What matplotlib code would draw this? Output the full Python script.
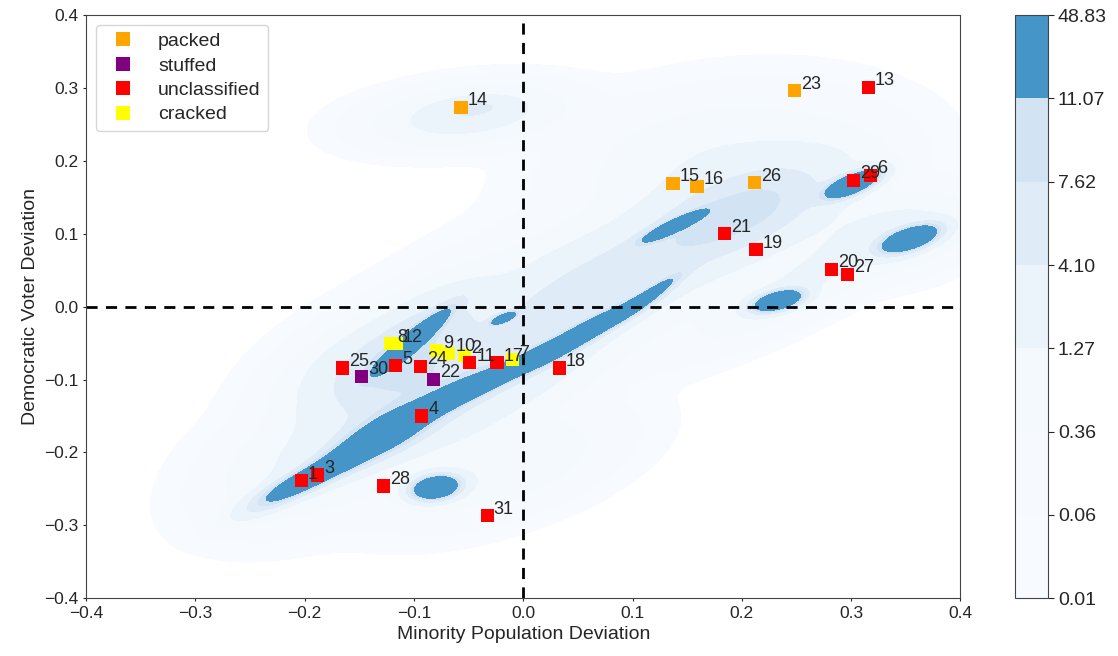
#Minority vs democratic voter deviation with ensemble density
import numpy as np
import matplotlib
matplotlib.use('Agg')
import matplotlib.pyplot as plt
from matplotlib.lines import Line2D

figName = 'out.png'

# district points (x: minority pop dev, y: dem voter dev)
district_ids = [1, 2, 3, 4, 5, 6, 7, 8, 9, 10, 11, 12, 13, 14, 15, 16,
                17, 18, 19, 20, 21, 22, 23, 24, 25, 26, 27, 28, 29, 30, 31]
minority_dev = [-0.203, -0.054, -0.188, -0.093, -0.117, 0.318, -0.010, -0.121, -0.079, -0.068,
                -0.049, -0.116, 0.316, -0.057, 0.137, 0.159, -0.024, 0.033, 0.213, 0.282,
                0.184, -0.082, 0.248, -0.094, -0.165, 0.212, 0.297, -0.128, 0.302, -0.148, -0.033]
dem_dev = [-0.239, -0.067, -0.231, -0.150, -0.081, 0.180, -0.073, -0.051, -0.060, -0.064,
           -0.077, -0.051, 0.301, 0.273, 0.169, 0.165, -0.077, -0.084, 0.078, 0.051,
           0.100, -0.100, 0.296, -0.082, -0.084, 0.170, 0.044, -0.246, 0.173, -0.096, -0.287]
district_class = ['unclassified', 'cracked', 'unclassified', 'unclassified', 'unclassified',
                  'unclassified', 'cracked', 'cracked', 'cracked', 'cracked', 'unclassified',
                  'cracked', 'unclassified', 'packed', 'packed', 'packed', 'unclassified',
                  'unclassified', 'unclassified', 'unclassified', 'unclassified', 'stuffed',
                  'packed', 'unclassified', 'unclassified', 'packed', 'unclassified',
                  'unclassified', 'unclassified', 'stuffed', 'unclassified']

class_names = ['packed', 'stuffed', 'unclassified', 'cracked']
class_colors = {'packed': 'orange', 'stuffed': 'purple', 'unclassified': 'red', 'cracked': 'yellow'}

# density levels shown on the colorbar
kde_levels = [0.01, 0.06, 0.36, 1.27, 4.10, 7.62, 11.07, 48.83]

# ensemble density, described as blobs: centre x, centre y, sigma major, sigma minor, angle (deg), peak
blob_cx = [0.04, -0.2, 0.18, -0.05, -0.045, 0.34, -0.02, 0.26,
           -0.06, -0.125, 0.20, 0.08, -0.09,
           -0.213, -0.183, -0.152, -0.122, -0.092, -0.060, -0.030, 0.0, 0.028, 0.059, 0.089, 0.116,
           -0.10, -0.018, -0.080, 0.301, 0.354, 0.137, 0.233]
blob_cy = [0.02, -0.22, 0.20, 0.262, 0.272, 0.10, -0.22, 0.04,
           -0.11, -0.085, 0.13, 0.04, -0.03,
           -0.248, -0.226, -0.198, -0.170, -0.144, -0.119, -0.101, -0.078, -0.062, -0.032, -0.010, 0.017,
           -0.045, -0.016, -0.248, 0.168, 0.093, 0.110, 0.008]
blob_sx = [0.11, 0.05, 0.07, 0.045, 0.02, 0.04, 0.06, 0.07,
           0.09, 0.05, 0.06, 0.08, 0.045,
           0.03, 0.03, 0.03, 0.03, 0.03, 0.03, 0.03, 0.03, 0.03, 0.03, 0.03, 0.025,
           0.03, 0.008, 0.013, 0.017, 0.017, 0.019, 0.014]
blob_sy = [0.045, 0.035, 0.045, 0.02, 0.008, 0.025, 0.03, 0.02,
           0.033, 0.03, 0.03, 0.03, 0.02,
           0.008, 0.008, 0.011, 0.014, 0.008, 0.008, 0.006, 0.006, 0.007, 0.007, 0.006, 0.004,
           0.005, 0.003, 0.009, 0.007, 0.008, 0.004, 0.007]
blob_ang = [35, 40, 15, 10, 10, 25, 30, 40,
            38, 40, 35, 35, 50,
            39, 39, 39, 39, 39, 39, 39, 39, 39, 39, 39, 45,
            52, 35, 20, 35, 30, 36, 25]
blob_peak = [1.2, 1.0, 1.2, 2.5, 3.0, 2.0, 1.0, 1.5,
             5.5, 6.5, 8.5, 4.5, 4.0,
             14, 14, 15, 15, 14, 14, 14, 14, 14, 14, 14, 14,
             30, 25, 35, 35, 35, 30, 35]

gx = np.linspace(-0.4, 0.4, 400)
gy = np.linspace(-0.4, 0.4, 400)
X, Y = np.meshgrid(gx, gy)
Z = np.zeros_like(X)
for cx, cy, sx, sy, ang, pk in zip(blob_cx, blob_cy, blob_sx, blob_sy, blob_ang, blob_peak):
    t = np.deg2rad(ang)
    u = (X - cx) * np.cos(t) + (Y - cy) * np.sin(t)
    v = -(X - cx) * np.sin(t) + (Y - cy) * np.cos(t)
    Z += pk * np.exp(-0.5 * (u**2 / sx**2 + v**2 / sy**2))
Z = np.clip(Z, 0, 48.8)

plt.rcParams['font.family'] = ['Liberation Sans', 'DejaVu Sans']
plt.rcParams['text.color'] = '#262626'
plt.rcParams['axes.labelcolor'] = '#262626'
plt.rcParams['xtick.color'] = '#262626'
plt.rcParams['ytick.color'] = '#262626'

fig = plt.figure(figsize=(11.18, 6.56), dpi=100)
ax = fig.add_axes([0.077, 0.088, 0.782, 0.889])
cax = fig.add_axes([0.908, 0.088, 0.029, 0.889])

cf = ax.contourf(X, Y, Z, levels=kde_levels, cmap='Blues', vmin=0.01, vmax=48.83)

ax.axhline(0, color='black', linestyle='--', linewidth=2, dashes=(4, 3))
ax.axvline(0, color='black', linestyle='--', linewidth=2, dashes=(4, 3))

cols = [class_colors[c] for c in district_class]
ax.scatter(minority_dev, dem_dev, c=cols, marker='s', s=90, linewidths=0, zorder=3)
for n, x, y in zip(district_ids, minority_dev, dem_dev):
    ax.text(x + 0.006, y + 0.003, str(n), fontsize=13, zorder=4)

handles = [Line2D([], [], marker='s', linestyle='', markersize=9.5, markeredgewidth=0,
                  color=class_colors[c]) for c in class_names]
leg = ax.legend(handles, class_names, loc='upper left', fontsize=14,
                labelspacing=0.35, fancybox=True, edgecolor='#cccccc')

ax.set_xlim(-0.4, 0.4)
ax.set_ylim(-0.4, 0.4)
ax.set_xticks(np.arange(-0.4, 0.41, 0.1))
ax.set_yticks(np.arange(-0.4, 0.41, 0.1))
ax.tick_params(labelsize=12.5, length=2, width=0.8)
ax.set_xlabel('Minority Population Deviation', fontsize=14)
ax.set_ylabel('Democratic Voter Deviation', fontsize=14)
for sp in ax.spines.values():
    sp.set_color('#444444')

cb = fig.colorbar(cf, cax=cax)
cb.set_ticks(kde_levels)
cb.set_ticklabels(['%.2f' % l for l in kde_levels])
cb.ax.tick_params(labelsize=14, length=4)
cb.outline.set_edgecolor('#444444')

plt.savefig(figName)
